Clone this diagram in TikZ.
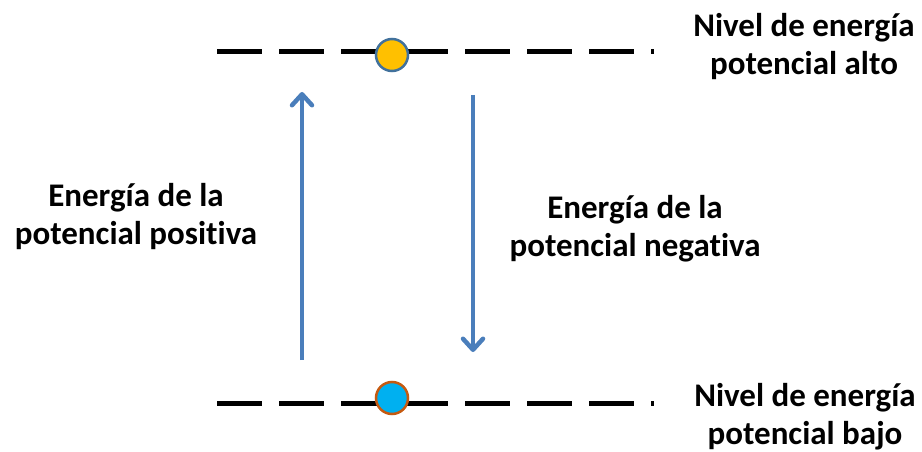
\documentclass[tikz,border=0pt]{standalone}
\usepackage{fontspec}
\setmainfont{Carlito}[Ligatures=NoCommon]
\usepackage{tikz}
\usetikzlibrary{arrows.meta,positioning}
\definecolor{arrblue}{RGB}{74,126,187}
\definecolor{hiyellow}{RGB}{255,192,0}
\definecolor{hiedge}{RGB}{65,113,156}
\definecolor{locyan}{RGB}{0,176,240}
\definecolor{loedge}{RGB}{197,90,17}
\tikzset{
  lvl/.style={line width=5pt, dash pattern=on 45pt off 17pt},
  ball/.style={draw, circle, line width=2.5pt, minimum size=32pt, inner sep=0pt},
  arr/.style={-{Straight Barb[length=11pt,width=20pt,line width=4.5pt,round]}, line width=4pt, arrblue},
  lbl/.style={font=\fontsize{33}{38}\selectfont\bfseries, align=center, inner sep=0pt},
}
\begin{document}
\begin{tikzpicture}[x=1pt,y=-1pt]
\useasboundingbox (0,0) rectangle (922,452);
% energy levels
\coordinate (topL) at (217,52); \coordinate (topR) at (654,52);
\coordinate (botL) at (217,403); \coordinate (botR) at (654,403);
\draw[lvl] (topL) -- (topR);
\draw[lvl] (botL) -- (botR);
\node[ball, fill=hiyellow, draw=hiedge] (hi) at (392,55) {};
\node[ball, fill=locyan, draw=loedge] (lo) at (392,398) {};
% transitions
\coordinate (upS) at (302,360); \coordinate (upE) at (302,92);
\coordinate (dnS) at (473,95); \coordinate (dnE) at (473,352);
\draw[arr] (upS) -- (upE);
\draw[arr] (dnS) -- (dnE);
% labels
\node[lbl] (thi) at (804,46.5) {Nivel de energía\\potencial alto};
\node[lbl] (tlo) at (805,417) {Nivel de energía\\potencial bajo};
\node[lbl] (tpos) at (136,217) {Energía de la\\potencial positiva};
\node[lbl] (tneg) at (635,229) {Energía de la\\potencial negativa};
\end{tikzpicture}
\end{document}
